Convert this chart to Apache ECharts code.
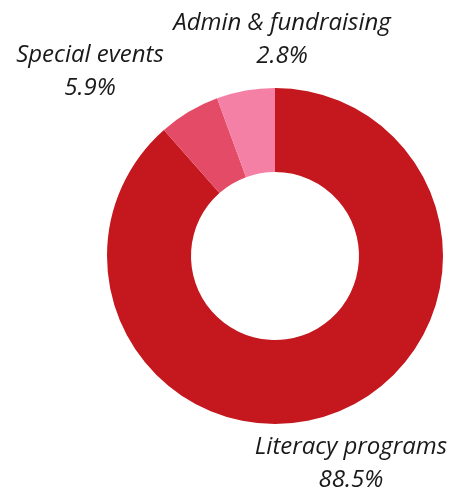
<!DOCTYPE html>
<html>
<head>
<meta charset="utf-8">
<script src="https://cdn.jsdelivr.net/npm/echarts@6/dist/echarts.min.js"></script>
<style>
  html, body { margin: 0; padding: 0; background: #fff; }
  #chart { width: 457px; height: 491px; }
</style>
</head>
<body>
<div id="chart"></div>
<script>
// categories, slice sizes (as drawn) and printed percentage labels
var categories = ['Literacy programs', 'Special events', 'Admin & fundraising'];
var values = [88.5, 5.9, 5.6];
var pctLabels = ['88.5%', '5.9%', '2.8%'];
var colors = ['#C4171E', '#E34B67', '#F480A6'];

// where each label sits (centre of the two-line block)
var labelPos = [[351, 464], [90, 72], [282, 40]];

var myChart = echarts.init(document.getElementById('chart'));

var option = {
    animation: false,
    series: [
        {
            type: 'pie',
            center: [275, 256],
            radius: [84, 168],
            startAngle: 90,
            clockwise: true,
            data: categories.map(function (name, i) {
                return { name: name, value: values[i], itemStyle: { color: colors[i] } };
            }),
            label: {
                show: true,
                position: 'outside',
                formatter: function (p) {
                    return p.name + '\n' + pctLabels[p.dataIndex];
                },
                fontFamily: '"Open Sans", sans-serif',
                fontStyle: 'italic',
                fontSize: 24,
                lineHeight: 33,
                color: '#1a1a1a',
                align: 'center',
                overflow: 'none',
                width: 300
            },
            labelLine: { show: false },
            labelLayout: function (params) {
                var pos = labelPos[params.dataIndex];
                return {
                    x: pos[0],
                    y: pos[1],
                    align: 'center',
                    verticalAlign: 'middle'
                };
            },
            emphasis: { disabled: true }
        }
    ]
};

myChart.setOption(option);
</script>
</body>
</html>
